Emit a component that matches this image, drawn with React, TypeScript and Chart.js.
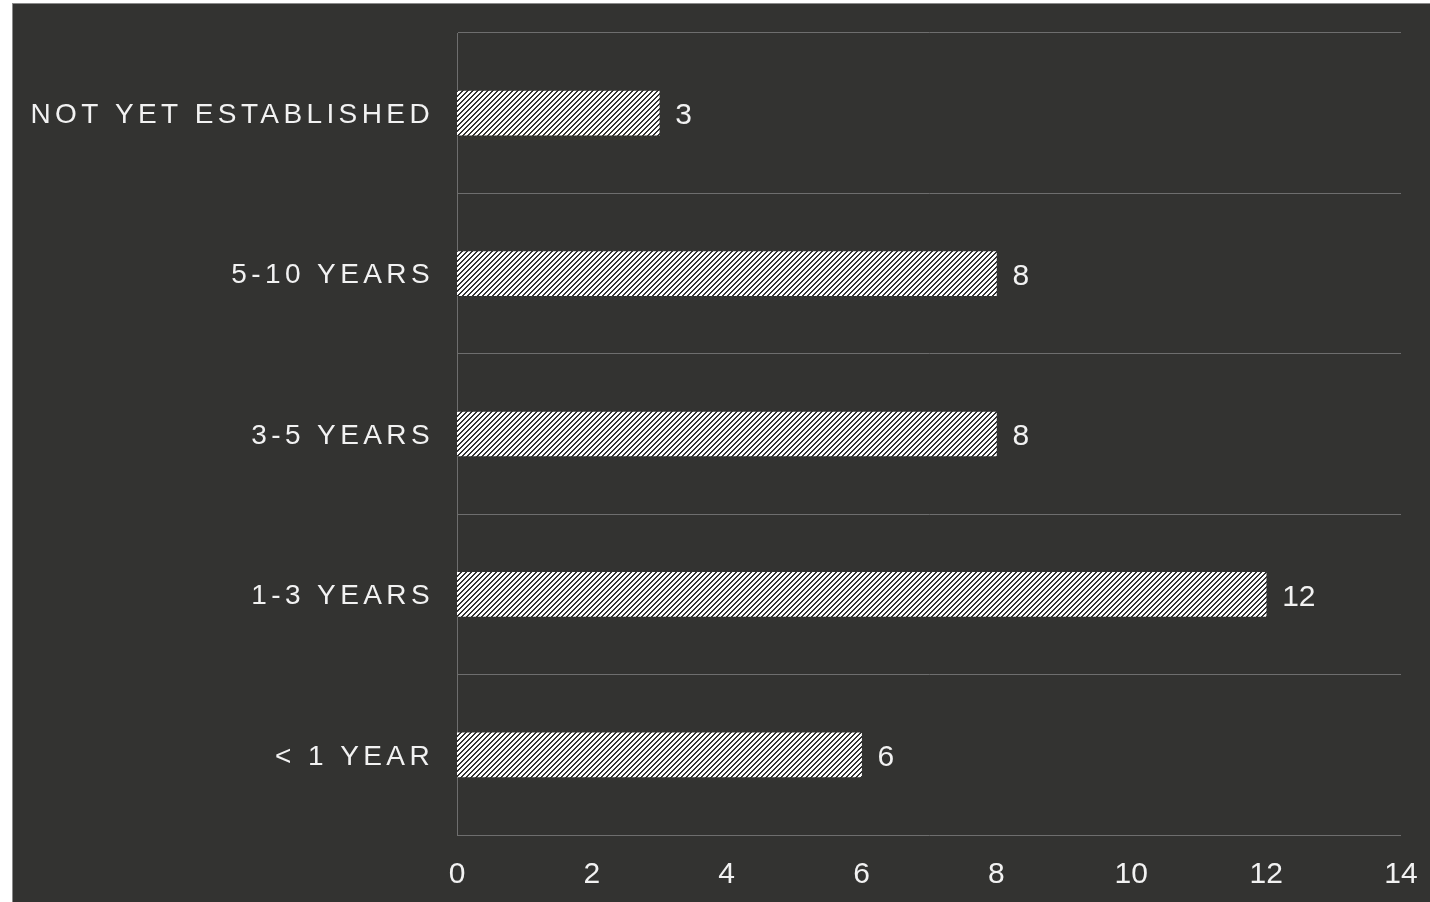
import React, { useEffect, useRef } from "react";
import { Chart, registerables, CategoryScale } from "chart.js";

Chart.register(...registerables);

class SpacedCategoryScale extends CategoryScale {
  static id = "spacedCategory";
  static defaults = (CategoryScale as any).defaults;
  drawLabels(area: any) {
    const ctx = this.ctx as any;
    ctx.save();
    ctx.letterSpacing = "4.4px";
    ctx.translate(0, 2);
    (CategoryScale.prototype as any).drawLabels.call(this, area);
    ctx.restore();
  }
}
Chart.register(SpacedCategoryScale as any);

const categories = ["NOT YET ESTABLISHED", "5-10 YEARS", "3-5 YEARS", "1-3 YEARS", "< 1 YEAR"];
const counts = [3, 8, 8, 12, 6];
const xTicks = [0, 2, 4, 6, 8, 10, 12, 14];

const FONT = "'Liberation Sans', Arial, sans-serif";
const BG = "#333331";
const TEXT = "#f2f2f2";
const GRID = "#6e6e6e";

function makePattern(): CanvasPattern | string {
  const c = document.createElement("canvas");
  c.width = 5;
  c.height = 5;
  const g = c.getContext("2d");
  if (!g) return "#fff";
  const img = g.createImageData(5, 5);
  for (let y = 0; y < 5; y++) {
    for (let x = 0; x < 5; x++) {
      const i = (y * 5 + x) * 4;
      const dark = (x + y) % 5 === 0 || (x + y) % 5 === 1;
      const v = dark ? 0x33 : 0xff;
      img.data[i] = v;
      img.data[i + 1] = v;
      img.data[i + 2] = v;
      img.data[i + 3] = 255;
    }
  }
  g.putImageData(img, 0, 0);
  const p = g.createPattern(c, "repeat");
  return p || "#fff";
}

const valueLabels = {
  id: "valueLabels",
  afterDatasetsDraw(chart: any) {
    const ctx = chart.ctx;
    const meta = chart.getDatasetMeta(0);
    ctx.save();
    ctx.font = `30px ${FONT}`;
    ctx.fillStyle = TEXT;
    ctx.textAlign = "left";
    ctx.textBaseline = "middle";
    meta.data.forEach((bar: any, i: number) => {
      ctx.fillText(String(chart.data.datasets[0].data[i]), bar.x + 16, bar.y + 3);
    });
    ctx.restore();
  },
};

function zeroPadding(scale: any) {
  scale.paddingTop = 0;
  scale.paddingBottom = 0;
  scale.paddingLeft = 0;
  scale.paddingRight = 0;
}

export default function App() {
  const ref = useRef<HTMLCanvasElement | null>(null);
  useEffect(() => {
    if (!ref.current) return;
    const chart = new Chart(ref.current, {
      type: "bar",
      data: {
        labels: categories,
        datasets: [
          {
            data: counts,
            backgroundColor: makePattern() as any,
            borderWidth: 0,
            barThickness: 44,
          },
        ],
      },
      options: {
        indexAxis: "y",
        animation: false,
        responsive: false,
        maintainAspectRatio: false,
        layout: { padding: { top: 29, right: 29, left: 0, bottom: 0 } },
        plugins: { legend: { display: false }, tooltip: { enabled: false } },
        scales: {
          x: {
            type: "linear",
            min: 0,
            max: 14,
            afterBuildTicks(scale: any) {
              scale.ticks = xTicks.map((v) => ({ value: v }));
            },
            ticks: {
              color: TEXT,
              font: { family: FONT, size: 30 },
              padding: 22,
              maxRotation: 0,
            },
            grid: { display: false, drawTicks: false },
            border: { display: false },
            afterFit(scale: any) {
              scale.height = 67;
              zeroPadding(scale);
            },
          },
          y: {
            type: "spacedCategory" as any,
            offset: true,
            ticks: {
              color: TEXT,
              font: { family: FONT, size: 28 },
              padding: 23,
            },
            grid: { display: true, offset: true, color: GRID, lineWidth: 1, drawTicks: false },
            border: { display: true, color: GRID, width: 1 },
            afterFit(scale: any) {
              scale.width = 444;
              zeroPadding(scale);
            },
          } as any,
        },
      },
      plugins: [valueLabels],
    });
    return () => chart.destroy();
  }, []);

  return (
    <div
      style={{
        position: "absolute",
        left: 12,
        top: 3,
        width: 1418,
        height: 899,
        boxSizing: "border-box",
        borderTop: "1px solid #8a8a8a",
        borderLeft: "1px solid #8a8a8a",
        background: BG,
        overflow: "hidden",
      }}
    >
      <canvas ref={ref} width={1417} height={898} style={{ display: "block" }} />
    </div>
  );
}
